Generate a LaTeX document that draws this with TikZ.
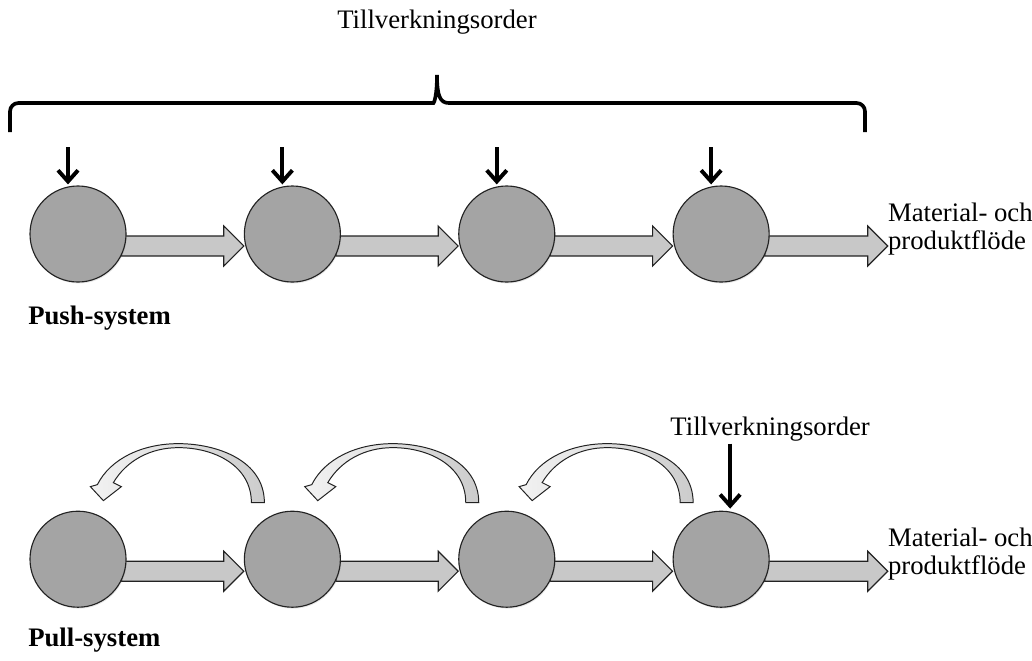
\documentclass[tikz,border=0pt]{standalone}
\usepackage{fontspec}
\setmainfont{Liberation Serif}
\usetikzlibrary{positioning,calc,arrows.meta,shadows,backgrounds}

\definecolor{stationgray}{HTML}{A4A4A4}
\definecolor{flowgray}{HTML}{C8C8C8}
\definecolor{edgegray}{HTML}{222222}

% broad grey arrow between two stations, 12px below their centres
\newcommand{\flowarrow}[2]{%
  \coordinate (fa-s) at ($(#1.east)+(-5,12)$);
  \coordinate (fa-t) at (#2.west |- fa-s);
  \draw[flowarrow] ($(fa-s)+(0,-10)$) -- ($(fa-t)+(-20,-10)$) -- ($(fa-t)+(-20,-20)$)
    -- (fa-t) -- ($(fa-t)+(-20,20)$) -- ($(fa-t)+(-20,10)$) -- ($(fa-s)+(0,10)$) -- cycle;}

% curved signal arrow going back from a station to the one before it
\newcommand{\returnarrow}[1]{%
  \begin{scope}[shift={(#1.north)}]
    \draw[returnarrow] (-28,-8) .. controls (-28,-50) and (-75,-67) .. (-114,-67)
      .. controls (-150,-67) and (-182,-52) .. (-195,-26)
      -- (-202,-24) -- (-189,-10) -- (-171,-24) -- (-179,-28)
      .. controls (-166,-50) and (-142,-63) .. (-114,-63)
      .. controls (-78,-63) and (-41,-45) .. (-41,-8) -- cycle;
  \end{scope}}

\begin{document}
\begin{tikzpicture}[x=0.025cm, y=-0.025cm,
  station/.style={circle, draw=edgegray, fill=stationgray, line width=0.8pt,
    minimum size=2.4cm, inner sep=0pt,
    drop shadow={shadow xshift=0.6pt, shadow yshift=-1pt, opacity=0.2}},
  flowarrow/.style={draw=edgegray, fill=flowgray, line width=0.8pt, line join=miter},
  returnarrow/.style={draw=edgegray, line width=0.7pt, left color=gray!10, right color=gray!40},
  orderarrow/.style={draw=black, line width=2.8pt, -{Straight Barb[length=0.28cm, width=0.5cm]}},
  brace/.style={draw=black, line width=2.6pt},
  caption/.style={font=\fontsize{19}{20}\selectfont, inner sep=0pt, align=left},
  syslabel/.style={caption, font=\fontsize{19}{20}\selectfont\bfseries}]
  \useasboundingbox (0,0) rectangle (1032,660);

  % push row
  \node [station] (Push1) at (78,234) {};
  \node [station, right=2.93cm of Push1] (Push2) {};
  \node [station, right=2.93cm of Push2] (Push3) {};
  \node [station, right=2.93cm of Push3] (Push4) {};
  \node [caption, right=2.95cm of Push4, yshift=0.125cm] (PushOut) {Material- och\\produktflöde};
  \node [syslabel, anchor=west] (PushLabel) at (28,318) {Push-system};

  % pull row
  \node [station, below=5.7cm of Push1] (Pull1) {};
  \node [station, right=2.93cm of Pull1] (Pull2) {};
  \node [station, right=2.93cm of Pull2] (Pull3) {};
  \node [station, right=2.93cm of Pull3] (Pull4) {};
  \node [caption, right=2.95cm of Pull4, yshift=0.125cm] (PullOut) {Material- och\\produktflöde};
  \node [syslabel, anchor=west] (PullLabel) at (28,640) {Pull-system};

  \begin{scope}[on background layer]
    \flowarrow{Push1}{Push2}
    \flowarrow{Push2}{Push3}
    \flowarrow{Push3}{Push4}
    \flowarrow{Push4}{PushOut}
    \flowarrow{Pull1}{Pull2}
    \flowarrow{Pull2}{Pull3}
    \flowarrow{Pull3}{Pull4}
    \flowarrow{Pull4}{PullOut}
  \end{scope}

  % orders pushed into every station
  \node [caption] (PushOrder) at (437,22) {Tillverkningsorder};
  \draw [brace] (10,132) [rounded corners=6pt] -- (10,103) -- (425,103) [sharp corners]
    .. controls (434,103) and (437,96) .. (437,75)
    .. controls (437,96) and (440,103) .. (449,103) [rounded corners=6pt] -- (865,103) -- (865,132);
  \foreach \i in {1,...,4}
    \draw [orderarrow] ($(Push\i.north)+(-10,-38)$) -- ($(Push\i.north)+(-10,-1)$);

  % order only at the last station, pulled back upstream
  \node [caption] (PullOrder) at ($(Pull4.north)+(49,-82)$) {Tillverkningsorder};
  \draw [orderarrow] ($(Pull4.north)+(9,-67)$) -- ($(Pull4.north)+(9,-2)$);
  \returnarrow{Pull2}
  \returnarrow{Pull3}
  \returnarrow{Pull4}
\end{tikzpicture}
\end{document}
